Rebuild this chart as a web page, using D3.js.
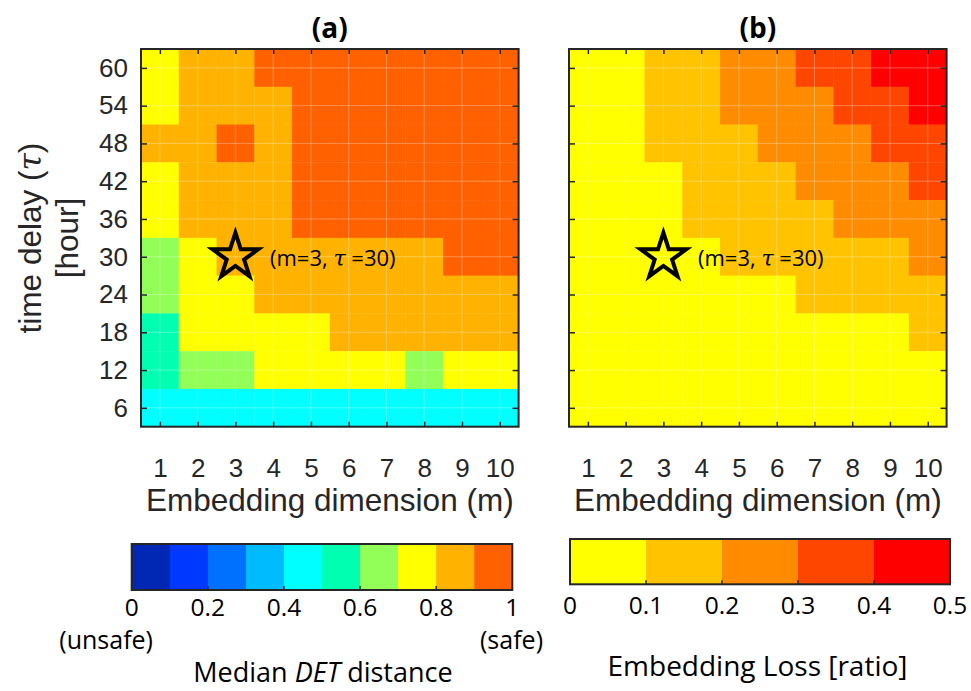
<!DOCTYPE html>
<html>
<head>
<meta charset="utf-8">
<script src="https://cdn.jsdelivr.net/npm/d3@7/dist/d3.min.js"></script>
<style>
  html, body { margin: 0; padding: 0; background: #fff; }
  svg { display: block; }
</style>
</head>
<body>
<svg id="chart" width="971" height="691"></svg>
<script>
// Embedding dimensions (columns) and time delays in hours (rows, top to bottom)
const mValues = [1, 2, 3, 4, 5, 6, 7, 8, 9, 10];
const tauRows = [60, 54, 48, 42, 36, 30, 24, 18, 12, 6];
const tauTicks = [6, 12, 18, 24, 30, 36, 42, 48, 54, 60];

// (a) median DET distance, one row per tau in tauRows order
const detDistance = [
  [0.75, 0.85, 0.85, 0.95, 0.95, 0.95, 0.95, 0.95, 0.95, 0.95],
  [0.75, 0.85, 0.85, 0.85, 0.95, 0.95, 0.95, 0.95, 0.95, 0.95],
  [0.85, 0.85, 0.95, 0.85, 0.95, 0.95, 0.95, 0.95, 0.95, 0.95],
  [0.75, 0.85, 0.85, 0.85, 0.95, 0.95, 0.95, 0.95, 0.95, 0.95],
  [0.75, 0.85, 0.85, 0.85, 0.95, 0.95, 0.95, 0.95, 0.95, 0.95],
  [0.65, 0.75, 0.85, 0.85, 0.85, 0.85, 0.85, 0.85, 0.95, 0.95],
  [0.65, 0.75, 0.75, 0.85, 0.85, 0.85, 0.85, 0.85, 0.85, 0.85],
  [0.55, 0.75, 0.75, 0.75, 0.75, 0.85, 0.85, 0.85, 0.85, 0.85],
  [0.55, 0.65, 0.65, 0.75, 0.75, 0.75, 0.75, 0.65, 0.75, 0.75],
  [0.45, 0.45, 0.45, 0.45, 0.45, 0.45, 0.45, 0.45, 0.45, 0.45]
];

// (b) embedding loss ratio, same layout
const embeddingLoss = [
  [0.05, 0.05, 0.15, 0.15, 0.25, 0.25, 0.35, 0.35, 0.45, 0.45],
  [0.05, 0.05, 0.15, 0.15, 0.25, 0.25, 0.25, 0.35, 0.35, 0.45],
  [0.05, 0.05, 0.15, 0.15, 0.15, 0.25, 0.25, 0.25, 0.35, 0.35],
  [0.05, 0.05, 0.05, 0.15, 0.15, 0.15, 0.25, 0.25, 0.25, 0.35],
  [0.05, 0.05, 0.05, 0.15, 0.15, 0.15, 0.15, 0.25, 0.25, 0.25],
  [0.05, 0.05, 0.05, 0.05, 0.15, 0.15, 0.15, 0.15, 0.15, 0.25],
  [0.05, 0.05, 0.05, 0.05, 0.05, 0.05, 0.15, 0.15, 0.15, 0.15],
  [0.05, 0.05, 0.05, 0.05, 0.05, 0.05, 0.05, 0.05, 0.05, 0.15],
  [0.05, 0.05, 0.05, 0.05, 0.05, 0.05, 0.05, 0.05, 0.05, 0.05],
  [0.05, 0.05, 0.05, 0.05, 0.05, 0.05, 0.05, 0.05, 0.05, 0.05]
];

// Selected embedding parameters
const selected = { m: 3, tau: 30 };

// Colour maps (one colour per bin)
const detColors = ["#0028b4", "#0038ff", "#0070ff", "#00bcff", "#00ffff",
                   "#00ffb0", "#92ff58", "#ffff00", "#ffb300", "#ff6000"];
const lossColors = ["#ffff00", "#ffc300", "#ff8c00", "#ff4600", "#ff0000"];
const detTicks = [0, 0.2, 0.4, 0.6, 0.8, 1];
const lossTicks = [0, 0.1, 0.2, 0.3, 0.4, 0.5];

const svg = d3.select("#chart");
svg.append("rect").attr("width", 971).attr("height", 691).attr("fill", "#fff");

const AXIS_FONT = "'Liberation Sans', Arial, sans-serif";
const NOTE_FONT = "'Open Sans', 'Noto Sans', sans-serif";
const GREEK_FONT = "'DejaVu Serif', serif";
const INK = "#262626";

const plotTop = 49, plotBottom = 426.7, plotW = 377.6;

function drawPanel(left, matrix, colorScale, title, showYLabels) {
  const x = d3.scaleLinear().domain([0.5, 10.5]).range([left, left + plotW]);
  const y = d3.scaleLinear().domain([3, 63]).range([plotBottom, plotTop]);
  const g = svg.append("g");

  // heatmap cells
  const cells = [];
  matrix.forEach((row, i) => row.forEach((v, j) => cells.push({ m: mValues[j], tau: tauRows[i], v })));
  g.selectAll("rect.cell").data(cells).join("rect")
    .attr("class", "cell")
    .attr("x", d => x(d.m - 0.5))
    .attr("y", d => y(d.tau + 3))
    .attr("width", d => x(d.m + 0.5) - x(d.m - 0.5) + 0.4)
    .attr("height", d => y(d.tau - 3) - y(d.tau + 3) + 0.4)
    .attr("fill", d => colorScale(d.v));

  // grid
  g.selectAll("line.gx").data(mValues).join("line")
    .attr("x1", d => x(d)).attr("x2", d => x(d))
    .attr("y1", plotTop).attr("y2", plotBottom)
    .attr("stroke", "#fff").attr("stroke-opacity", 0.3).attr("stroke-width", 1);
  g.selectAll("line.gy").data(tauTicks).join("line")
    .attr("y1", d => y(d)).attr("y2", d => y(d))
    .attr("x1", left).attr("x2", left + plotW)
    .attr("stroke", "#fff").attr("stroke-opacity", 0.3).attr("stroke-width", 1);

  // axes with inward ticks on all four sides
  const styleAxis = sel => {
    sel.select(".domain").remove();
    sel.selectAll(".tick line").attr("stroke", INK).attr("stroke-width", 1.5);
    sel.selectAll("text").attr("fill", INK).style("font-family", AXIS_FONT).style("font-size", "26px");
  };
  g.append("g").attr("transform", `translate(0,${plotBottom})`)
    .call(d3.axisBottom(x).tickValues(mValues).tickSizeInner(-5).tickSizeOuter(0).tickPadding(32))
    .call(styleAxis);
  g.append("g").attr("transform", `translate(0,${plotTop})`)
    .call(d3.axisTop(x).tickValues(mValues).tickSizeInner(-5).tickSizeOuter(0).tickFormat(""))
    .call(styleAxis);
  g.append("g").attr("transform", `translate(${left},0)`)
    .call(d3.axisLeft(y).tickValues(tauTicks).tickSizeInner(-6).tickSizeOuter(0).tickPadding(13)
      .tickFormat(showYLabels ? d3.format("d") : ""))
    .call(styleAxis);
  g.append("g").attr("transform", `translate(${left + plotW},0)`)
    .call(d3.axisRight(y).tickValues(tauTicks).tickSizeInner(-6).tickSizeOuter(0).tickFormat(""))
    .call(styleAxis);

  // frame
  g.append("rect")
    .attr("x", left).attr("y", plotTop)
    .attr("width", plotW).attr("height", plotBottom - plotTop)
    .attr("fill", "none").attr("stroke", INK).attr("stroke-width", 2);

  // x label
  g.append("text")
    .attr("x", left + plotW / 2).attr("y", 511)
    .attr("text-anchor", "middle")
    .attr("fill", INK).style("font-family", AXIS_FONT).style("font-size", "31.5px")
    .text("Embedding dimension (m)");

  // title
  g.append("text")
    .attr("x", left + plotW / 2).attr("y", 38)
    .attr("text-anchor", "middle")
    .attr("fill", "#000").style("font-family", NOTE_FONT).style("font-weight", "bold").style("font-size", "28px")
    .text(title);

  // selected point marker
  const star = d3.symbol().type(d3.symbolStar).size(24 * 24 / 0.8908130915292852);
  g.append("path")
    .attr("d", star())
    .attr("transform", `translate(${x(selected.m)},${y(selected.tau)})`)
    .attr("fill", "none").attr("stroke", "#000").attr("stroke-width", 4).attr("stroke-linejoin", "miter");

  const note = g.append("text")
    .attr("x", x(selected.m) + 34.6).attr("y", y(selected.tau) + 9)
    .attr("fill", "#000").style("font-family", NOTE_FONT).style("font-size", "22px");
  note.append("tspan").text(`(m=${selected.m}, `);
  note.append("tspan").style("font-family", GREEK_FONT).style("font-style", "italic").text("τ");
  note.append("tspan").text(` =${selected.tau})`);
}

function drawColorbar(x0, x1, y0, y1, colors, ticks, numBaseline) {
  const lo = ticks[0], hi = ticks[ticks.length - 1];
  const scale = d3.scaleLinear().domain([lo, hi]).range([x0, x1]);
  const step = (hi - lo) / colors.length;
  const g = svg.append("g");
  g.selectAll("rect.bin").data(colors).join("rect")
    .attr("x", (d, i) => scale(lo + i * step))
    .attr("y", y0)
    .attr("width", (d, i) => scale(lo + (i + 1) * step) - scale(lo + i * step) + 0.4)
    .attr("height", y1 - y0)
    .attr("fill", d => d);
  g.selectAll("line.tk").data(ticks.slice(1, -1)).join("line")
    .attr("x1", d => scale(d)).attr("x2", d => scale(d))
    .attr("y1", y1).attr("y2", y1 - 4)
    .attr("stroke", INK).attr("stroke-width", 1.5);
  g.append("rect")
    .attr("x", x0).attr("y", y0).attr("width", x1 - x0).attr("height", y1 - y0)
    .attr("fill", "none").attr("stroke", INK).attr("stroke-width", 2);
  g.selectAll("text.num").data(ticks).join("text")
    .attr("x", d => scale(d)).attr("y", numBaseline)
    .attr("text-anchor", "middle")
    .attr("fill", "#000").style("font-family", NOTE_FONT).style("font-size", "24.5px")
    .text(d => d === 0 || d === 1 ? d3.format("d")(d) : d3.format(".1f")(d));
  return g;
}

// panels
const detScale = d3.scaleQuantize().domain([0, 1]).range(detColors);
const lossScale = d3.scaleQuantize().domain([0, 0.5]).range(lossColors);
drawPanel(141, detDistance, detScale, "(a)", true);
drawPanel(569, embeddingLoss, lossScale, "(b)", false);

// y-axis label (left panel)
const yl = svg.append("g").attr("fill", INK).style("font-family", AXIS_FONT).style("font-size", "31.5px");
const yl1 = yl.append("text").attr("transform", "translate(41,238) rotate(-90)").attr("text-anchor", "middle");
yl1.append("tspan").text("time delay (");
yl1.append("tspan").style("font-family", GREEK_FONT).style("font-style", "italic").text("τ");
yl1.append("tspan").text(")");
yl.append("text").attr("transform", "translate(78,238) rotate(-90)").attr("text-anchor", "middle").text("[hour]");

// colorbars
const cbA = drawColorbar(131.7, 512.3, 544, 590, detColors, detTicks, 615.5);
cbA.append("text").attr("x", 153).attr("y", 649).attr("text-anchor", "end")
  .style("font-family", NOTE_FONT).style("font-size", "25px").text("(unsafe)");
cbA.append("text").attr("x", 480).attr("y", 649).attr("text-anchor", "start")
  .style("font-family", NOTE_FONT).style("font-size", "25px").text("(safe)");
const tA = cbA.append("text").attr("x", 323).attr("y", 682).attr("text-anchor", "middle")
  .style("font-family", NOTE_FONT).style("font-size", "27px");
tA.append("tspan").text("Median ");
tA.append("tspan").style("font-style", "italic").text("DET");
tA.append("tspan").text(" distance");

const cbB = drawColorbar(570, 950, 539, 584.3, lossColors, lossTicks, 614);
cbB.append("text").attr("x", 757.5).attr("y", 676).attr("text-anchor", "middle")
  .style("font-family", NOTE_FONT).style("font-size", "28px").text("Embedding Loss [ratio]");
</script>
</body>
</html>
